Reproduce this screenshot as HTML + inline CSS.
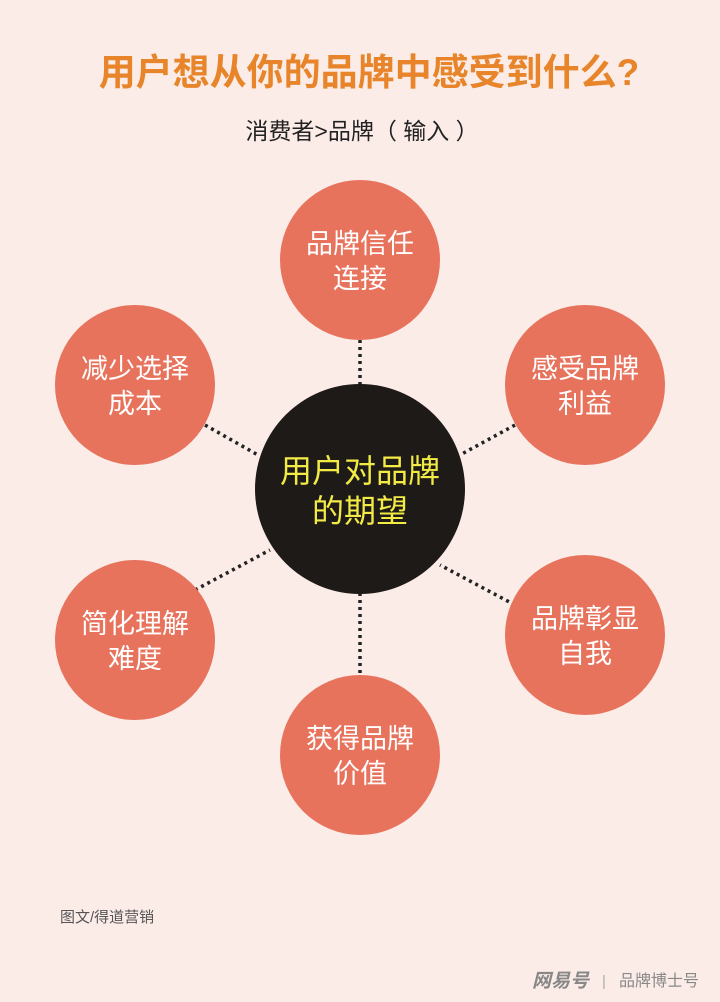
<!DOCTYPE html>
<html><head><meta charset="utf-8"><style>
html,body{margin:0;padding:0;background:#fbece8;}
svg{display:block;font-family:"Liberation Sans","Noto Sans CJK SC",sans-serif;}
</style></head><body>
<svg width="720" height="1002" viewBox="0 0 720 1002">
<rect width="720" height="1002" fill="#fbece8"/>
<text x="369" y="85" text-anchor="middle" font-size="37" font-weight="bold" fill="#e8852a">用户想从你的品牌中感受到什么?</text>
<text x="362" y="139" text-anchor="middle" font-size="23" fill="#222">消费者&gt;品牌（ 输入 ）</text>
<g stroke="#222" stroke-width="3.5" stroke-dasharray="3,4">
<line x1="360" y1="340" x2="360" y2="386"/>
<line x1="205" y1="425" x2="258" y2="455"/>
<line x1="515" y1="425" x2="460" y2="455"/>
<line x1="195" y1="590" x2="270" y2="550"/>
<line x1="515" y1="605" x2="440" y2="565"/>
<line x1="360" y1="593" x2="360" y2="678"/>
</g>
<g fill="#e8735d">
<circle cx="360" cy="260" r="80"/>
<circle cx="135" cy="385" r="80"/>
<circle cx="585" cy="385" r="80"/>
<circle cx="135" cy="640" r="80"/>
<circle cx="585" cy="635" r="80"/>
<circle cx="360" cy="755" r="80"/>
</g>
<circle cx="360" cy="489" r="105" fill="#1e1a18"/>
<g fill="#fff" font-size="27" text-anchor="middle">
<text x="360" y="253">品牌信任</text><text x="360" y="288">连接</text>
<text x="135" y="378">减少选择</text><text x="135" y="413">成本</text>
<text x="585" y="378">感受品牌</text><text x="585" y="413">利益</text>
<text x="135" y="633">简化理解</text><text x="135" y="668">难度</text>
<text x="585" y="628">品牌彰显</text><text x="585" y="663">自我</text>
<text x="360" y="748">获得品牌</text><text x="360" y="783">价值</text>
</g>
<g fill="#f2ea45" font-size="32" text-anchor="middle">
<text x="360" y="482">用户对品牌</text><text x="360" y="522">的期望</text>
</g>
<text x="60" y="922" font-size="15" fill="#555">图文/得道营销</text>
<text x="532" y="987" font-size="19" font-weight="bold" fill="#888" font-style="italic">网易号</text>
<text x="602" y="986" font-size="15" fill="#aaa">|</text>
<text x="619" y="986" font-size="16" fill="#888">品牌博士号</text>
</svg>
</body></html>
